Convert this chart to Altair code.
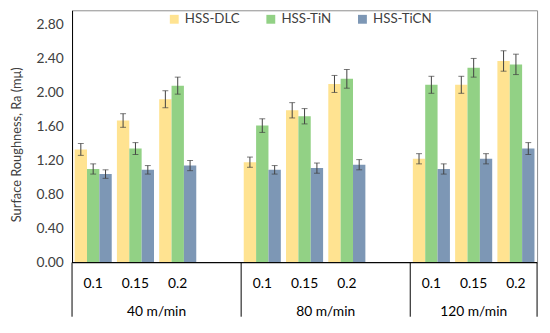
import altair as alt
import pandas as pd

speeds = ["40 m/min", "80 m/min", "120 m/min"]
feeds = ["0.1", "0.15", "0.2"]
series = ["HSS-DLC", "HSS-TiN", "HSS-TiCN"]
colors = ["#FFE391", "#92D185", "#7D97B5"]

dlc = [1.33, 1.67, 1.92, 1.18, 1.79, 2.10, 1.22, 2.09, 2.37]
tin = [1.10, 1.34, 2.08, 1.61, 1.72, 2.16, 2.09, 2.29, 2.33]
ticn = [1.04, 1.09, 1.14, 1.09, 1.11, 1.15, 1.10, 1.22, 1.34]

dlc_err = [0.07, 0.08, 0.10, 0.06, 0.09, 0.10, 0.06, 0.10, 0.12]
tin_err = [0.06, 0.07, 0.10, 0.08, 0.09, 0.11, 0.10, 0.11, 0.12]
ticn_err = [0.05, 0.05, 0.06, 0.05, 0.06, 0.06, 0.06, 0.06, 0.07]

y_ticks = [0.0, 0.4, 0.8, 1.2, 1.6, 2.0, 2.4, 2.8]

# slot layout: each speed group holds its feeds plus one empty slot (except the last)
slots = []
group_bounds = []
group_centers = []
feed_pos = []
idx = 0
for gi, sp in enumerate(speeds):
    start = idx
    group_bounds.append(start)
    for f in feeds:
        slots.append(f"{sp}|{f}")
        feed_pos.append({"pos": idx + 0.5, "label": f})
        idx += 1
    if gi < len(speeds) - 1:
        slots.append(f"{sp}|gap")
        idx += 1
    group_centers.append({"pos": (start + idx) / 2, "label": sp})
group_bounds.append(idx)
n_slots = idx

rows = []
vals = [dlc, tin, ticn]
errs = [dlc_err, tin_err, ticn_err]
k = 0
for sp in speeds:
    for f in feeds:
        for si, s in enumerate(series):
            v = vals[si][k]
            e = errs[si][k]
            rows.append({"slot": f"{sp}|{f}", "series": s, "value": v,
                         "lo": v - e, "hi": v + e})
        k += 1
df = pd.DataFrame(rows)

FONT = "Lato"
H = 256
W = 472
YMAX = 2.966

xs = alt.X("slot:N", scale=alt.Scale(domain=slots, paddingInner=0, paddingOuter=0), axis=None)
xo = alt.XOffset("series:N", scale=alt.Scale(domain=series, paddingInner=0, paddingOuter=0.21))
ysc = alt.Scale(domain=[0, YMAX], nice=False)
yaxis = alt.Axis(
    title="Surface Roughness, Ra (mμ)", values=y_ticks, format=".2f",
    grid=False, ticks=False, labelPadding=9, domainColor="#000000",
    labelOverlap=False,
    labelFont=FONT, labelFontSize=14, labelColor="#404040",
    titleFont=FONT, titleFontSize=13, titleFontWeight="normal", titleColor="#404040",
    titleX=-56, titleY=136, titleAngle=270, titleAlign="center", titleBaseline="middle")

bars = alt.Chart(df).mark_bar().encode(
    x=xs, xOffset=xo,
    y=alt.Y("value:Q", scale=ysc, axis=yaxis),
    color=alt.Color("series:N", scale=alt.Scale(domain=series, range=colors),
                    legend=alt.Legend(title=None, orient="none", direction="horizontal",
                                      legendX=97, legendY=2, symbolType="square",
                                      symbolSize=81, symbolStrokeWidth=0, labelFont=FONT,
                                      labelFontSize=13.5, labelColor="#404040",
                                      columnPadding=24, labelOffset=4, padding=0)),
)

err_rule = alt.Chart(df).mark_rule(color="#404040", strokeWidth=1).encode(
    x=xs, xOffset=xo, y=alt.Y("lo:Q", scale=ysc, axis=yaxis), y2="hi:Q")
cap_hi = alt.Chart(df).mark_tick(color="#404040", thickness=1, size=6, orient="horizontal").encode(
    x=xs, xOffset=xo, y=alt.Y("hi:Q", scale=ysc, axis=yaxis))
cap_lo = alt.Chart(df).mark_tick(color="#404040", thickness=1, size=6, orient="horizontal").encode(
    x=xs, xOffset=xo, y=alt.Y("lo:Q", scale=ysc, axis=yaxis))

main = alt.layer(bars, err_rule, cap_hi, cap_lo)

xq = alt.Scale(domain=[0, n_slots], nice=False, zero=False)
bounds_df = pd.DataFrame({"pos": group_bounds})
base_line = alt.Chart(pd.DataFrame({"a": [group_bounds[0]], "b": [group_bounds[-1]]})).mark_rule(
    color="#000000", strokeWidth=1).encode(
    x=alt.X("a:Q", scale=xq, axis=None), x2="b:Q", y=alt.value(H))
seps = alt.Chart(bounds_df).mark_rule(color="#000000", strokeWidth=1).encode(
    x=alt.X("pos:Q", scale=xq, axis=None), y=alt.value(H), y2=alt.value(H + 55))
feed_txt = alt.Chart(pd.DataFrame(feed_pos)).mark_text(
    font=FONT, fontSize=14, color="#000000", baseline="middle").encode(
    x=alt.X("pos:Q", scale=xq, axis=None), y=alt.value(H + 22), text="label:N")
grp_txt = alt.Chart(pd.DataFrame(group_centers)).mark_text(
    font=FONT, fontSize=14, color="#000000", baseline="middle").encode(
    x=alt.X("pos:Q", scale=xq, axis=None), y=alt.value(H + 50), text="label:N")

ann = alt.layer(base_line, seps, feed_txt, grp_txt)

chart = alt.layer(main, ann).resolve_scale(x="independent").properties(
    width=W, height=H,
    autosize=alt.AutoSizeParams(type="none"),
    padding={"left": 65, "top": 0, "right": 5, "bottom": 55},
).configure_view(stroke="#8c8c8c", strokeWidth=1).configure_axis(labelOverlap=False)

chart.save("out.html", embed_options={"renderer": "svg", "actions": False})
